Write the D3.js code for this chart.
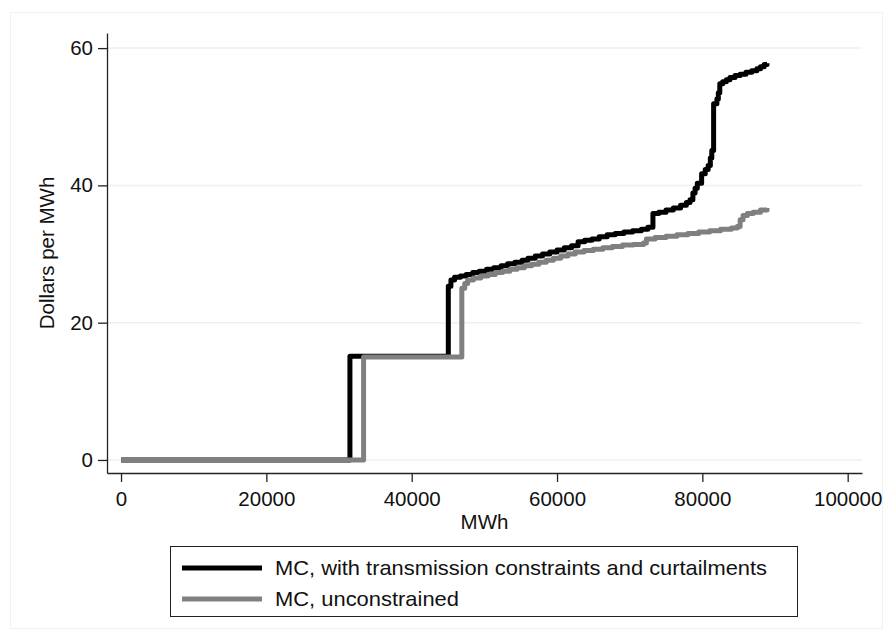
<!DOCTYPE html>
<html>
<head>
<meta charset="utf-8">
<script src="https://cdn.jsdelivr.net/npm/d3@7"></script>
<style>
  body { margin: 0; background: #fff; }
  svg { font-family: "Liberation Sans", Arial, sans-serif; }
</style>
</head>
<body>
<svg id="chart" width="886" height="633"></svg>
<script>
// step points: [MWh, $/MWh]
const constrained = [
  [0, 0], [31500, 15.1], [45040, 25.3], [45400, 26.2], [45900, 26.6], [46700, 26.8],
  [47500, 27.0], [48400, 27.3], [49300, 27.5], [50300, 27.8], [51300, 28.0],
  [52300, 28.3], [53200, 28.6], [54200, 28.8], [55200, 29.1], [56000, 29.4],
  [57000, 29.7], [58000, 30.0], [59000, 30.3], [60000, 30.6], [61000, 30.9],
  [62000, 31.2], [62900, 31.8], [63800, 32.0], [64800, 32.2], [65800, 32.5],
  [66900, 32.8], [68000, 33.0], [69200, 33.2], [70400, 33.4], [71600, 33.6],
  [72500, 33.9], [73200, 35.9], [74000, 36.1], [75000, 36.4], [76000, 36.7],
  [77000, 37.1], [77800, 37.5], [78300, 37.9], [78700, 38.9], [79000, 39.6],
  [79300, 40.3], [79900, 41.7], [80400, 42.3], [80800, 42.9], [81100, 44.0],
  [81300, 45.1], [81550, 51.9], [82000, 52.6], [82200, 53.5], [82400, 54.8],
  [82800, 55.1], [83300, 55.4], [83800, 55.7], [84500, 56.0], [85200, 56.2],
  [86000, 56.5], [86800, 56.7], [87500, 57.0], [88000, 57.3], [88500, 57.6], [88900, 57.8]
]
const unconstrained = [
  [0, 0], [33380, 15.0], [46900, 25.0], [47300, 25.7], [47700, 26.2], [48500, 26.5],
  [49500, 26.8], [50500, 27.0], [51500, 27.3], [52500, 27.5], [53500, 27.8],
  [54500, 28.0], [55500, 28.3], [56500, 28.5], [57500, 28.8], [58500, 29.1],
  [59500, 29.4], [60500, 29.7], [61500, 30.0], [62500, 30.3], [63700, 30.5],
  [65000, 30.7], [66300, 30.9], [67600, 31.1], [69000, 31.3], [70500, 31.4],
  [71900, 31.6], [72300, 32.2], [73500, 32.4], [75000, 32.6], [76500, 32.8],
  [78000, 33.0], [79500, 33.2], [81000, 33.4], [82500, 33.6], [84000, 33.8],
  [84800, 34.0], [85200, 35.0], [85600, 35.6], [86200, 35.9], [87000, 36.1],
  [88000, 36.4], [88900, 36.7]
]
const xTicks = [0, 20000, 40000, 60000, 80000, 100000]
const yTicks = [0, 20, 40, 60]
const seriesNames = ['MC, with transmission constraints and curtailments', 'MC, unconstrained']
const seriesColors = ['#000000', '#808080']
const labelWidths = [492, 184]

const svg = d3.select('#chart')
const plot = { left: 107, right: 862, top: 33, bottom: 473 }

// faint outer graph region border
svg.append('rect')
  .attr('x', 10.5).attr('y', 12.5).attr('width', 872).attr('height', 616)
  .attr('fill', 'none').attr('stroke', '#eef2f5').attr('stroke-width', 1)

const x = d3.scaleLinear().domain([-1930, 101970]).range([plot.left, plot.right])
const y = d3.scaleLinear().domain([-1.9, 62.2]).range([plot.bottom, plot.top])

// gridlines
svg.append('g')
  .selectAll('line')
  .data(yTicks)
  .join('line')
  .attr('x1', plot.left).attr('x2', plot.right)
  .attr('y1', d => y(d)).attr('y2', d => y(d))
  .attr('stroke', '#eaf2f3').attr('stroke-width', 1.5)

const xAxis = svg.append('g')
  .attr('transform', `translate(0,${plot.bottom})`)
  .call(d3.axisBottom(x).tickValues(xTicks).tickFormat(d3.format('d')).tickSize(9).tickPadding(9).tickSizeOuter(0))
const yAxis = svg.append('g')
  .attr('transform', `translate(${plot.left},0)`)
  .call(d3.axisLeft(y).tickValues(yTicks).tickSize(9).tickPadding(5).tickSizeOuter(0))

for (const ax of [xAxis, yAxis]) {
  ax.selectAll('path, line').attr('stroke', '#222').attr('stroke-width', 1.3)
  ax.selectAll('text').attr('font-size', 20.5).attr('fill', '#111')
    .attr('font-family', '"Liberation Sans", Arial, sans-serif')
}

svg.append('text')
  .attr('x', (plot.left + plot.right) / 2).attr('y', 529)
  .attr('text-anchor', 'middle').attr('font-size', 20.5).attr('fill', '#111')
  .text('MWh')
svg.append('text')
  .attr('transform', `translate(54,${(plot.top + plot.bottom) / 2}) rotate(-90)`)
  .attr('text-anchor', 'middle').attr('font-size', 20.5).attr('fill', '#111')
  .text('Dollars per MWh')

const line = d3.line().x(d => x(d[0])).y(d => y(d[1])).curve(d3.curveStepAfter)

svg.append('g')
  .selectAll('path')
  .data([constrained, unconstrained])
  .join('path')
  .attr('d', line)
  .attr('fill', 'none')
  .attr('stroke', (d, i) => seriesColors[i])
  .attr('stroke-width', 5)
  .attr('stroke-linejoin', 'round')

// legend
const legend = svg.append('g')
legend.append('rect')
  .attr('x', 170.5).attr('y', 546.5).attr('width', 627).attr('height', 70)
  .attr('fill', '#fff').attr('stroke', '#222').attr('stroke-width', 1)
const item = legend.selectAll('g.item')
  .data(seriesNames)
  .join('g')
  .attr('class', 'item')
  .attr('transform', (d, i) => `translate(0,${568 + i * 31})`)
item.append('line')
  .attr('x1', 182).attr('x2', 262)
  .attr('stroke', (d, i) => seriesColors[i]).attr('stroke-width', 5)
item.append('text')
  .attr('x', 275).attr('dy', '0.35em')
  .attr('font-size', 21).attr('fill', '#111')
  .attr('textLength', (d, i) => labelWidths[i]).attr('lengthAdjust', 'spacingAndGlyphs')
  .text(d => d)
</script>
</body>
</html>
